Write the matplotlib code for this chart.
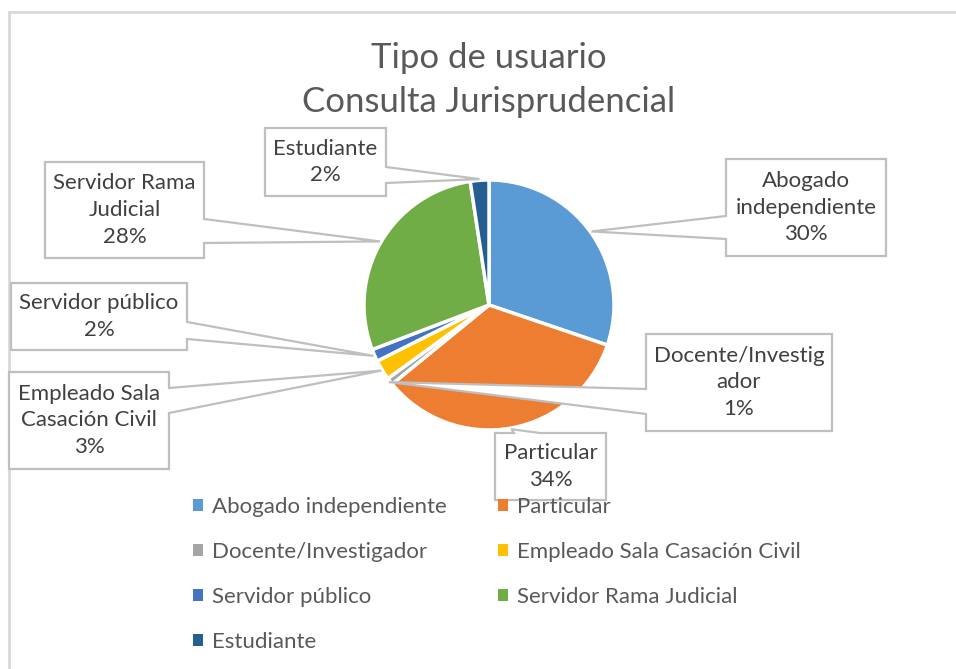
import matplotlib
matplotlib.use("Agg")
import matplotlib.pyplot as plt
from matplotlib.patches import Polygon, Patch, Rectangle
import numpy as np

plt.rcParams['font.family'] = ['Lato', 'DejaVu Sans']

# data (share of users, %)
categories = ["Abogado independiente", "Particular", "Docente/Investigador",
              "Empleado Sala Casación Civil", "Servidor público",
              "Servidor Rama Judicial", "Estudiante"]
values = [30.2, 33.9, 0.9, 2.6, 1.6, 28.4, 2.4]
# label text as wrapped inside the callouts
callout_names = ["Abogado\nindependiente", "Particular", "Docente/Investig\nador",
                 "Empleado Sala\nCasación Civil", "Servidor público",
                 "Servidor Rama\nJudicial", "Estudiante"]
colors = ["#5B9BD5", "#ED7D31", "#A5A5A5", "#FFC000", "#4472C4", "#70AD47", "#255E91"]

W, H = 956, 669
fig = plt.figure(figsize=(W / 100, H / 100), dpi=100)
ax = fig.add_axes([0, 0, 1, 1])


def Y(y):
    # image pixel row -> axes y
    return H - y


cx, cy, r = 489, 305, 125
wedges, _ = ax.pie(values, colors=colors, startangle=90, counterclock=False,
                   center=(cx, Y(cy)), radius=r,
                   wedgeprops=dict(edgecolor="white", linewidth=2.5))
ax.set_xlim(0, W)
ax.set_ylim(0, H)
ax.set_aspect("equal")
ax.axis("off")

# chart area border (only top and left visible in the crop)
ax.add_patch(Rectangle((9, -20), W + 50, Y(12) + 20, fill=False,
                       edgecolor="#D9D9D9", linewidth=2, zorder=0))

ax.text(cx, Y(80), "Tipo de usuario\nConsulta Jurisprudencial", ha="center", va="center",
        fontsize=25, color="#595959", linespacing=1.45)

# callout boxes: (x0, y0, x1, y1), side of the pointer, pointer base
boxes = [
    ((726, 159, 886, 256), "left", (216, 239)),
    ((495, 433, 606, 500), "top", (514, 540)),
    ((646, 334, 832, 431), "left", (389, 414)),
    ((9, 372, 169, 469), "right", (388, 413)),
    ((11, 283, 187, 350), "right", (322, 339)),
    ((45, 162, 204, 258), "right", (219, 243)),
    ((265, 128, 386, 196), "right", (167, 183)),
]

total = sum(values)
for w, v, name, (box, side, base) in zip(wedges, values, callout_names, boxes):
    mid = np.deg2rad((w.theta1 + w.theta2) / 2)
    tx = cx + r * 1.01 * np.cos(mid)
    ty = Y(cy) + r * 1.01 * np.sin(mid)
    x0, y0, x1, y1 = box
    b0, b1 = base
    if side == "right":
        pts = [(x0, y0), (x1, y0), (x1, b0), None, (x1, b1), (x1, y1), (x0, y1)]
    elif side == "left":
        pts = [(x0, y0), (x1, y0), (x1, y1), (x0, y1), (x0, b1), None, (x0, b0)]
    else:
        pts = [(x0, y0), (b0, y0), None, (b1, y0), (x1, y0), (x1, y1), (x0, y1)]
    verts = [(tx, ty) if p is None else (p[0], Y(p[1])) for p in pts]
    ax.add_patch(Polygon(verts, closed=True, facecolor="white", edgecolor="#BFBFBF",
                         linewidth=1.6, zorder=3))
    ax.text((x0 + x1) / 2, Y((y0 + y1) / 2), f"{name}\n{v / total * 100:.0f}%",
            ha="center", va="center", fontsize=16, color="#404040",
            linespacing=1.42, zorder=4)

handles = [Patch(facecolor=c, edgecolor="none") for c in colors]
order = [0, 2, 4, 6, 1, 3, 5]
leg = ax.legend([handles[i] for i in order], [categories[i] for i in order],
                ncol=2, loc="upper left", bbox_to_anchor=(193, Y(497)),
                bbox_transform=ax.transData, frameon=False, fontsize=16,
                borderpad=0, borderaxespad=0,
                handlelength=0.45, handleheight=0.45, handletextpad=0.4,
                labelspacing=1.13, columnspacing=2.3, labelcolor="#595959")
leg.set_zorder(5)

fig.savefig("out.png", dpi=100)
